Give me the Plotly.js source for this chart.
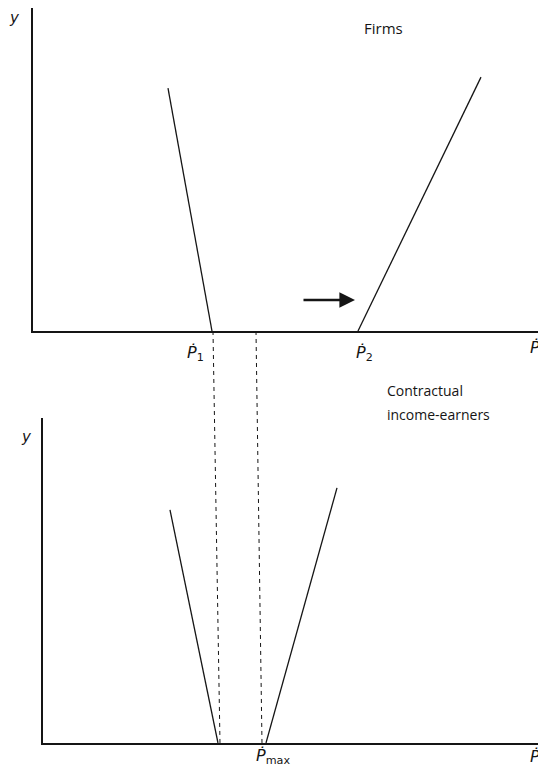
<!DOCTYPE html>
<html>
<head>
<meta charset="utf-8">
<script src="https://cdn.plot.ly/plotly-3.0.1.min.js"></script>
<style>html,body{margin:0;padding:0;background:#fff;}#chart{width:538px;height:777px;}</style>
</head>
<body>
<div id="chart"></div>
<script>
// ---- Data (inflation rate Ṗ on x, y on y) ----
// Firms panel
const firmsLeftX = [2.70, 3.58];
const firmsLeftY = [7.52, 0];
const firmsRightX = [6.50, 8.96];
const firmsRightY = [0, 7.86];
const shiftArrowFromX = 5.38;
const shiftArrowToX = 6.44;
const shiftArrowY = 0.96;
// Contractual income-earners panel
const earnersLeftX = [2.54, 3.50];
const earnersLeftY = [7.17, 0];
const earnersRightX = [4.46, 5.88];
const earnersRightY = [0, 7.85];
// Dashed guide lines (top axis x, where they reach the lower axis)
const guideTopX = [3.60, 4.46];
const guideBottomX = [3.74, 4.58];
// Axis point labels
const topLabels = ['<i>Ṗ</i><sub>1</sub>', '<i>Ṗ</i><sub>2</sub>', '<i>Ṗ</i>'];
const topLabelX = [3.26, 6.64, 10.04];
const bottomLabels = ['<i>Ṗ</i><sub>max</sub>', '<i>Ṗ</i>'];
const bottomLabelX = [4.60, 9.84];
const panelTitles = ['Firms', 'Contractual', 'income-earners'];

const ink = '#151515';
const lineStyle = {color: ink, width: 1.3};

const traces = [
  {x: firmsLeftX, y: firmsLeftY, xaxis: 'x', yaxis: 'y', mode: 'lines', line: lineStyle},
  {x: firmsRightX, y: firmsRightY, xaxis: 'x', yaxis: 'y', mode: 'lines', line: lineStyle},
  {x: earnersLeftX, y: earnersLeftY, xaxis: 'x2', yaxis: 'y2', mode: 'lines', line: lineStyle},
  {x: earnersRightX, y: earnersRightY, xaxis: 'x2', yaxis: 'y2', mode: 'lines', line: lineStyle}
];

const axisBase = {
  showline: true, linecolor: ink, linewidth: 1.6,
  showgrid: false, zeroline: false, showticklabels: false, ticks: '', fixedrange: true
};

const topDomainY = [0.574, 0.9897];
const bottomDomainY = [0.0438, 0.462];

const shapes = guideTopX.map((x0, i) => ({
  type: 'line', xref: 'x', yref: 'paper',
  x0: x0, x1: guideBottomX[i], y0: topDomainY[0], y1: bottomDomainY[0],
  line: {color: ink, width: 1, dash: '4px,4px'}
}));

const labelFont = {family: 'DejaVu Sans, sans-serif', size: 16, color: ink};
const titleFont = {family: 'Open Sans, sans-serif', size: 14, color: ink};
const yFont = {family: 'DejaVu Sans, sans-serif', size: 15, color: ink};

const annotations = [];
topLabels.forEach((t, i) => annotations.push({
  text: t, x: topLabelX[i], y: 0, xref: 'x', yref: 'y', yshift: i === 2 ? -16 : -22,
  showarrow: false, font: labelFont, xanchor: 'center', yanchor: 'middle'
}));
bottomLabels.forEach((t, i) => annotations.push({
  text: t, x: bottomLabelX[i], y: 0, xref: 'x2', yref: 'y2', yshift: -14,
  showarrow: false, font: labelFont, xanchor: 'center', yanchor: 'middle'
}));
annotations.push({text: '<i>y</i>', x: 0, y: 10, xref: 'x', yref: 'y', xshift: -18, yshift: -10,
  showarrow: false, font: yFont, xanchor: 'center', yanchor: 'middle'});
annotations.push({text: '<i>y</i>', x: 0, y: 10, xref: 'x2', yref: 'y2', xshift: -16, yshift: -19,
  showarrow: false, font: yFont, xanchor: 'center', yanchor: 'middle'});
annotations.push({text: panelTitles[0], x: 7.02, y: 9.38, xref: 'x', yref: 'y', showarrow: false,
  font: {family: 'Open Sans, sans-serif', size: 15, color: ink}, xanchor: 'center', yanchor: 'middle'});
annotations.push({text: panelTitles[1], x: 6.84, y: 0.498, xref: 'x2', yref: 'paper', showarrow: false,
  font: titleFont, xanchor: 'left', yanchor: 'middle'});
annotations.push({text: panelTitles[2], x: 6.84, y: 0.467, xref: 'x2', yref: 'paper', showarrow: false,
  font: titleFont, xanchor: 'left', yanchor: 'middle'});
// shift arrow
annotations.push({
  text: '', x: shiftArrowToX, y: shiftArrowY, ax: shiftArrowFromX, ay: shiftArrowY,
  xref: 'x', yref: 'y', axref: 'x', ayref: 'y',
  showarrow: true, arrowhead: 2, arrowsize: 1.3, arrowwidth: 2.4, arrowcolor: ink
});

const layout = {
  width: 538, height: 777,
  margin: {l: 0, r: 0, t: 0, b: 0},
  paper_bgcolor: '#fff', plot_bgcolor: '#fff',
  showlegend: false,
  xaxis: Object.assign({}, axisBase, {domain: [0.0613, 1], range: [0, 10.1], anchor: 'y'}),
  yaxis: Object.assign({}, axisBase, {domain: topDomainY, range: [0, 10], anchor: 'x'}),
  xaxis2: Object.assign({}, axisBase, {domain: [0.0799, 1], range: [0, 9.9], anchor: 'y2'}),
  yaxis2: Object.assign({}, axisBase, {domain: bottomDomainY, range: [0, 10], anchor: 'x2'}),
  shapes: shapes,
  annotations: annotations,
  hovermode: false
};

Plotly.newPlot('chart', traces, layout, {displayModeBar: false, staticPlot: true});
</script>
</body>
</html>
